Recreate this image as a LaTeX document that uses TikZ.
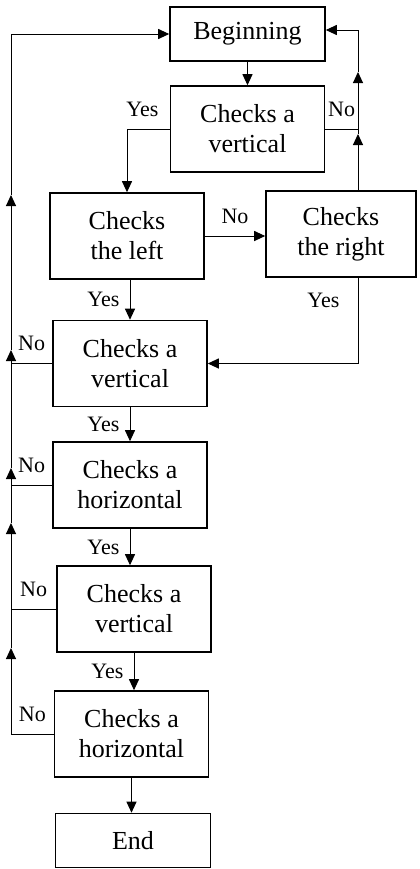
\documentclass[tikz,border=0pt]{standalone}
\usepackage{fontspec}
\setmainfont{Liberation Serif}
\usetikzlibrary{positioning, arrows.meta, calc}
\tikzset{
  startstop/.style={rectangle, minimum width=77.5pt, minimum height=27pt, text centered, draw=black, line width=0.8pt, font=\fontsize{13}{15}\selectfont},
  process/.style={rectangle, minimum width=77pt, minimum height=43pt, text centered, align=center, draw=black, line width=0.8pt, font=\fontsize{13}{15}\selectfont},
  answer/.style={font=\fontsize{11}{13}\selectfont, inner sep=3pt},
  link/.style={line width=0.5pt},
  arrow/.style={line width=0.5pt,-{Triangle[length=5.5pt,width=5pt]}}
}
\begin{document}
\begin{tikzpicture}[node distance=62pt]
                \useasboundingbox (0,0) rectangle (209.5pt,-434.5pt);
                \node (beg) [startstop] at (123.75pt,-17pt) {Beginning};
                \node (cv1) [process, below of=beg, yshift=14.5pt] {Checks a\\vertical};
                \node (cl) [process, below of=cv1, xshift=-60.25pt, yshift=8.5pt] {Checks\\the left};
                \node (cr) [process, right of=cl, xshift=45pt, yshift=1pt, minimum width=75pt] {Checks\\the right};
                \node (cv2) [process, below of=cl, xshift=1.5pt, yshift=-1.75pt] {Checks a\\vertical};
                \node (ch1) [process, below of=cv2, yshift=1.25pt] {Checks a\\horizontal};
                \node (cv3) [process, below of=ch1, xshift=2pt] {Checks a\\vertical};
                \node (ch2) [process, below of=cv3, xshift=-1.25pt, yshift=-0.5pt] {Checks a\\horizontal};
                \node (end) [startstop, below of=ch2, xshift=0.75pt, yshift=8.75pt] {End};

                % puntos de paso de las lineas de retorno
                \coordinate (up0) at (5.5pt,-97.5pt);
                \coordinate (up1) at (5.5pt,-175pt);
                \coordinate (up2) at (5.5pt,-234pt);
                \coordinate (up3) at (5.5pt,-261.5pt);
                \coordinate (up4) at (5.5pt,-324pt);
                \coordinate (rt1) at (179pt,-67pt);
                \coordinate (rt2) at (179pt,-36pt);

                \draw [arrow] (beg) -- (cv1);
                \draw [arrow] (cv1.west) -| node[answer, above=3pt, pos=0.32] {Yes} (cl.north);
                \draw [link] (cv1.east) -- node[answer, above=3pt] {No} (cv1.east -| rt1);
                \draw [arrow] (cl.east) -- node[answer, above=3pt] {No} (cl.east -| cr.west);
                \draw [arrow] (cl.south -| cv2.north) -- node[answer, left=2pt] {Yes} (cv2.north);
                \draw [arrow] (cr.south -| rt1) |- node[answer, left=6pt, pos=0.13] {Yes} (cv2.east);

                % rama derecha hacia el inicio
                \draw [arrow] (cr.north -| rt1) -- (rt1);
                \draw [arrow] (rt1) -- (rt2);
                \draw [arrow] (rt2) |- ([yshift=2pt]beg.east);

                \draw [arrow] (cv2) -- node[answer, left=2pt] {Yes} (ch1);
                \draw [arrow] (ch1.south) -- node[answer, left=2pt] {Yes} (ch1.south |- cv3.north);
                \draw [arrow] (cv3.south) -- node[answer, left=2pt] {Yes} (cv3.south |- ch2.north);
                \draw [arrow] (ch2.south) -- (ch2.south |- end.north);

                % rama izquierda hacia el inicio
                \draw [link] (cv2.west) -- node[answer, above=3pt] {No} (cv2.west -| up0);
                \draw [link] (ch1.west) -- node[answer, above=3pt] {No} (ch1.west -| up0);
                \draw [link] (cv3.west) -- node[answer, above=3pt] {No} (cv3.west -| up0);
                \draw [arrow] (ch2.west) -| node[answer, above=3pt, pos=0.25] {No} (up4);
                \draw [arrow] (up4) -- (up3);
                \draw [arrow] (up3) -- (up2);
                \draw [arrow] (up2) -- (up1);
                \draw [arrow] (up1) -- (up0);
                \draw [arrow] (up0) |- (beg.west);
            \end{tikzpicture}
\end{document}
